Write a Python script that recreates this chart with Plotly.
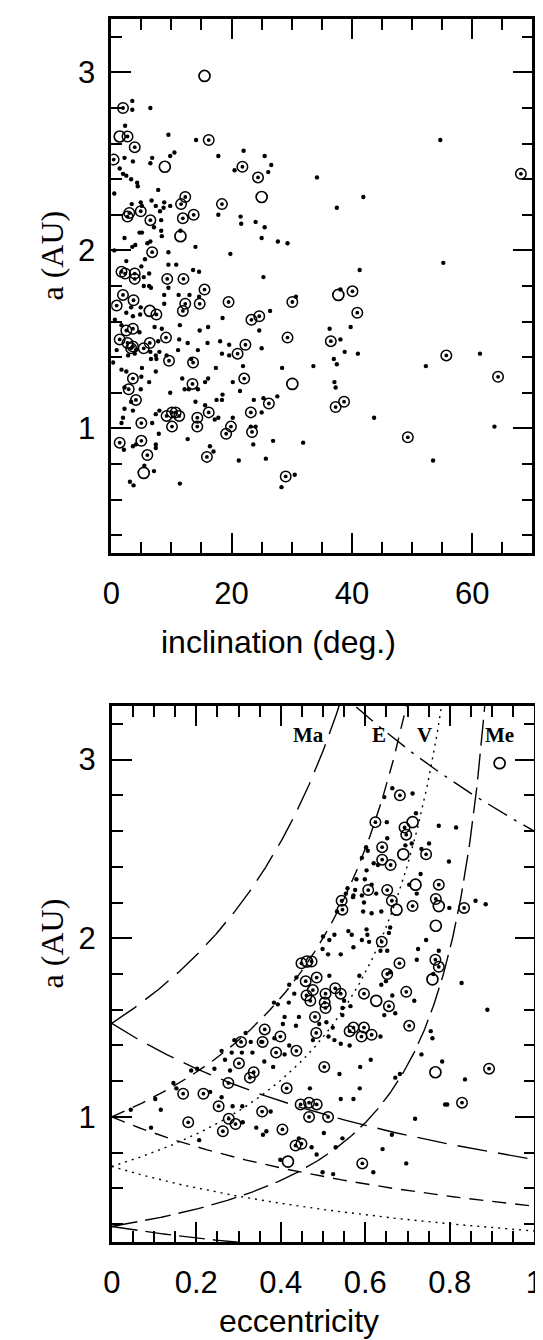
import numpy as np
import plotly.graph_objects as go

# ---------------- data: top panel (inclination [deg], a [AU]) ----------------
TOP_DOTS = [
    (3.5, 2.84), (3.5, 2.79), (6.5, 2.80), (2.3, 2.70), (9.5, 2.65), (14.1, 2.62), (22.0, 2.56), (25.5, 2.53),
    (2.2, 2.52), (3.6, 2.50), (6.8, 2.52), (6.5, 2.49), (9.8, 2.53), (10.5, 2.55), (17.8, 2.53), (20.5, 2.45),
    (1.4, 2.46), (1.95, 2.43), (2.5, 2.42), (3.3, 2.40), (4.3, 2.38), (4.4, 2.36), (0.5, 2.32), (7.8, 2.34),
    (6.7, 2.28), (8.8, 2.27), (9.8, 2.25), (7.4, 2.25), (8.7, 2.24), (4.9, 2.27), (5.1, 2.25), (3.4, 2.26),
    (8.1, 2.22), (8.3, 2.17), (7.1, 2.13), (8.3, 2.11), (8.4, 2.08), (11.5, 2.11), (17.8, 2.20), (21.5, 2.19),
    (21.6, 2.15), (24.0, 2.16), (25.0, 2.07), (25.5, 2.13), (2.2, 2.07), (4.7, 2.10), (5.1, 2.10), (4.0, 2.03),
    (3.5, 2.02), (6.0, 2.04), (6.5, 2.05), (9.5, 1.99), (14.0, 2.02), (19.8, 1.98), (0.5, 2.00), (5.6, 1.95),
    (9.5, 1.92), (10.8, 1.92), (2.5, 1.94),
    (5.0, 1.91), (6.3, 1.87), (5.4, 1.85), (13.6, 1.89), (14.6, 1.88), (25.3, 1.85), (5.4, 1.80), (6.3, 1.80),
    (6.6, 1.79), (9.5, 1.79), (8.8, 1.75), (11.2, 1.75), (13.0, 1.75), (14.6, 1.74), (3.3, 1.68), (4.9, 1.68),
    (2.5, 1.65), (3.6, 1.63), (4.8, 1.64), (8.8, 1.70), (18.5, 1.62), (24.6, 1.55), (1.7, 1.58), (0.6, 1.61),
    (4.7, 1.54), (7.2, 1.57), (8.4, 1.56), (11.4, 1.58), (14.7, 1.55), (16.1, 1.57), (11.3, 1.50), (12.7, 1.48),
    (7.8, 1.49), (16.0, 1.48), (18.1, 1.49), (19.6, 1.47), (0.9, 1.44), (4.1, 1.44), (3.9, 1.42), (2.8, 1.41),
    (6.5, 1.43), (7.4, 1.41), (8.0, 1.43), (9.2, 1.41), (11.1, 1.44), (6.6, 1.39), (7.5, 1.39), (14.4, 1.44),
    (18.4, 1.42), (19.6, 1.41), (13.3, 1.39), (17.4, 1.34), (21.9, 1.35), (1.7, 1.33), (2.5, 1.32), (5.1, 1.34),
    (5.0, 1.29), (6.3, 1.26), (7.4, 1.32), (11.8, 1.28), (16.1, 1.28), (15.6, 1.26), (14.4, 1.22), (12.2, 1.22),
    (12.9, 1.22), (20.2, 1.26), (21.4, 1.21), (2.2, 1.23), (4.9, 1.22), (9.8, 1.20), (3.3, 1.15), (2.2, 1.11),
    (3.6, 1.10), (1.95, 1.06), (18.5, 1.19), (18.4, 1.16), (17.5, 1.16), (23.7, 1.16), (14.0, 1.15), (15.6, 1.13),
    (7.4, 1.08), (8.0, 1.10), (17.2, 1.05), (17.8, 1.06), (20.2, 1.06), (6.8, 1.03), (23.2, 1.01), (24.0, 1.01),
    (1.7, 1.03), (0.3, 1.37),
    (2.1, 0.88), (3.6, 0.90), (4.1, 0.91), (7.4, 0.91), (7.4, 0.89), (7.9, 0.97), (5.5, 0.79), (3.1, 0.70),
    (3.7, 0.68), (7.1, 0.76), (11.4, 0.69), (12.7, 0.94), (16.4, 0.90), (17.0, 0.87), (21.2, 0.82), (23.6, 0.91),
    (26.9, 0.93), (25.7, 0.83), (31.9, 0.92), (30.5, 0.74), (28.3, 0.67), (27.6, 1.18), (25.3, 1.17), (25.0, 1.09),
    (33.6, 1.35), (28.4, 1.34), (25.0, 1.45),
    (26.6, 2.48), (26.1, 2.44), (27.7, 2.05), (29.3, 2.04), (30.7, 1.74), (26.4, 1.66),
    (54.7, 2.62), (34.2, 2.41), (41.9, 2.30), (37.5, 2.24), (55.2, 1.93), (41.3, 1.89), (38.1, 1.78), (36.3, 1.56),
    (39.8, 1.57), (38.1, 1.50), (38.8, 1.43), (41.0, 1.42), (37.0, 1.39), (37.5, 1.36), (61.3, 1.42), (52.3, 1.35),
    (37.1, 1.26), (37.3, 1.23), (43.7, 1.06), (63.7, 1.01), (53.5, 0.82),
]
TOP_RINGS = [
    (1.95, 2.80), (2.7, 2.64), (3.9, 2.58), (16.2, 2.62), (0.4, 2.51), (21.8, 2.47), (24.4, 2.41), (12.3, 2.30),
    (11.6, 2.26), (18.4, 2.26), (4.9, 2.22), (3.0, 2.21), (2.7, 2.19), (6.5, 2.17), (11.9, 2.18), (13.7, 2.20),
    (6.8, 1.99), (1.7, 1.88), (2.3, 1.87), (3.9, 1.87), (3.9, 1.84), (9.3, 1.84), (12.0, 1.84), (15.5, 1.78),
    (1.95, 1.75), (3.7, 1.72), (0.9, 1.69), (12.3, 1.70), (11.9, 1.66), (14.7, 1.70), (19.5, 1.71), (7.5, 1.64),
    (23.3, 1.61), (24.6, 1.63), (2.5, 1.55), (3.6, 1.56), (9.1, 1.51), (1.4, 1.50), (2.7, 1.48), (3.6, 1.46),
    (3.3, 1.45), (6.4, 1.48), (5.4, 1.45), (22.3, 1.47), (9.6, 1.38), (21.0, 1.42), (13.6, 1.37), (22.1, 1.28),
    (3.6, 1.28), (13.5, 1.25), (2.9, 1.22), (4.1, 1.16), (16.2, 1.09), (23.2, 1.09), (26.2, 1.14), (9.2, 1.07),
    (10.1, 1.09), (10.7, 1.09), (11.3, 1.07), (14.3, 1.06), (5.0, 1.03), (10.1, 1.01), (14.3, 1.01), (19.9, 1.01),
    (1.4, 0.92), (5.0, 0.93), (6.0, 0.85), (15.9, 0.84), (19.1, 0.97), (23.4, 0.98), (29.0, 0.73), (29.3, 1.51),
    (30.1, 1.71), (68.1, 2.43), (40.1, 1.77), (40.9, 1.65), (36.5, 1.49), (55.7, 1.41), (64.3, 1.29), (38.7, 1.15),
    (37.3, 1.12), (49.3, 0.95),
]
TOP_OPEN = [(1.4, 2.64), (8.9, 2.47), (25.0, 2.30), (11.5, 2.08), (6.4, 1.66), (15.5, 2.98), (5.4, 0.75),
            (30.1, 1.25), (37.75, 1.75)]

# ---------------- data: bottom panel (eccentricity, a [AU]) ----------------
BOT_DOTS = [
    (.664, 2.84), (.712, 2.81), (.645, 2.79), (.651, 2.65), (.720, 2.70), (.774, 2.63), (.815, 2.62), (.652, 2.56),
    (.602, 2.51), (.606, 2.49), (.695, 2.52), (.710, 2.53), (.733, 2.50), (.751, 2.53), (.592, 2.45), (.620, 2.42),
    (.630, 2.41), (.798, 2.43), (.603, 2.38), (.579, 2.33), (.599, 2.33), (.615, 2.30), (.731, 2.36), (.722, 2.25),
    (.704, 2.30), (.626, 2.25), (.592, 2.24), (.576, 2.27), (.572, 2.24), (.558, 2.28), (.554, 2.25), (.799, 2.17),
    (.861, 2.21), (.885, 2.19), (.533, 2.15), (.571, 2.23), (.597, 2.20), (.595, 2.15), (.615, 2.14), (.638, 2.15),
    (.560, 2.04), (.568, 2.02), (.603, 2.05), (.605, 2.02), (.609, 1.98), (.659, 2.06), (.656, 2.03), (.592, 1.99),
    (.572, 1.95), (.500, 2.01), (.515, 1.99), (.527, 2.02), (.744, 1.99), (.725, 1.94), (.774, 1.93), (.722, 1.88),
    (.499, 1.94), (.512, 1.91), (.542, 1.91), (.636, 1.93), (.652, 1.93), (.761, 1.80), (.659, 1.81), (.638, 1.74),
    (.649, 1.76), (.716, 1.65), (.664, 1.68), (.645, 1.57), (.671, 1.58), (.565, 1.62), (.550, 1.65), (.586, 1.79),
    (.515, 1.79), (.420, 1.74), (.437, 1.78), (.419, 1.64), (.393, 1.63), (.432, 1.69), (.443, 1.56), (.436, 1.51),
    (.384, 1.64), (.491, 1.52), (.508, 1.53), (.523, 1.50), (.527, 1.43), (.546, 1.57), (.546, 1.61), (.513, 1.45),
    (.542, 1.41), (.563, 1.40), (.636, 1.45), (.828, 1.75), (.889, 1.60), (.755, 1.48), (.759, 1.44), (.733, 1.35),
    (.782, 1.31), (.836, 1.21), (.794, 1.07), (.671, 1.22), (.682, 1.24), (.539, 1.24), (.588, 1.28), (.613, 1.32),
    (.587, 1.16), (.542, 1.10), (.572, 1.10), (.469, 1.16), (.476, 1.43), (.409, 1.56), (.405, 1.52), (.385, 1.44),
    (.420, 1.40), (.409, 1.35), (.354, 1.42), (.329, 1.42), (.333, 1.36), (.361, 1.31), (.382, 1.28), (.290, 1.43),
    (.317, 1.47), (.284, 1.36), (.308, 1.36), (.260, 1.37), (.268, 1.32), (.280, 1.26), (.243, 1.27), (.188, 1.26),
    (.202, 1.27), (.233, 1.14), (.260, 1.11), (.286, 1.06), (.309, 1.06), (.146, 1.19), (.153, 1.16), (.103, 1.10),
    (.045, 1.04), (.116, 1.04), (.093, 0.94), (.207, 0.87), (.310, 0.97), (.342, 0.94), (.358, 0.90), (.366, 0.92),
    (.376, 1.03), (.399, 0.76), (.443, 0.88), (.473, 0.83), (.485, 0.79), (.502, 0.91), (.499, 0.69), (.524, 0.68),
    (.530, 0.83), (.546, 0.88), (.619, 0.69), (.641, 0.82), (.663, 0.90), (.697, 0.74), (.718, 0.99), (.789, 1.07),
]
BOT_RINGS = [
    (.682, 2.80), (.624, 2.65), (.693, 2.62), (.697, 2.58), (.640, 2.51), (.744, 2.47), (.640, 2.44), (.660, 2.41),
    (.774, 2.30), (.607, 2.27), (.652, 2.27), (.767, 2.22), (.663, 2.21), (.712, 2.18), (.834, 2.17), (.544, 2.21),
    (.546, 2.16), (.639, 1.98), (.766, 1.88), (.774, 1.84), (.681, 1.86), (.652, 1.80), (.697, 1.70), (.656, 1.62),
    (.597, 1.69), (.449, 1.86), (.473, 1.87), (.485, 1.78), (.459, 1.76), (.461, 1.68), (.470, 1.65), (.476, 1.71),
    (.506, 1.69), (.504, 1.64), (.506, 1.61), (.529, 1.72), (.542, 1.69), (.481, 1.56), (.484, 1.47), (.563, 1.48),
    (.572, 1.50), (.597, 1.50), (.591, 1.45), (.615, 1.46), (.704, 1.51), (.893, 1.27), (.829, 1.08), (.503, 1.28),
    (.467, 1.08), (.485, 1.07), (.447, 1.07), (.414, 1.16), (.437, 1.37), (.389, 1.36), (.399, 1.45), (.357, 1.42),
    (.362, 1.49), (.301, 1.30), (.336, 1.25), (.327, 1.22), (.276, 1.19), (.306, 1.42), (.217, 1.13), (.169, 1.13),
    (.253, 1.06), (.181, 0.97), (.263, 0.92), (.277, 0.99), (.293, 0.96), (.356, 1.03), (.404, 0.93), (.435, 0.84),
    (.449, 0.85), (.467, 1.00), (.512, 1.00), (.593, 0.74),
]
BOT_OPEN = [(.918, 2.98), (.712, 2.65), (.690, 2.47), (.719, 2.30), (.774, 2.18), (.674, 2.16), (.767, 2.07),
            (.759, 1.77), (.626, 1.65), (.462, 1.87), (.766, 1.25), (.417, 0.75)]

# planet-crossing curves: q = a(1-e) = r  and  Q = a(1+e) = r
PLANET_NAMES = ["Me", "V", "E", "Ma"]
PLANET_A = [0.387, 0.723, 1.0, 1.524]
PLANET_DASH = ["26px,8px", "2px,5px", "14px,9px", "30px,11px"]
JUPITER_Q = 5.2
LABEL_E = [0.918, 0.741, 0.632, 0.466]
LABEL_A = 3.14

TICKFONT = dict(family="Liberation Sans, Arial, sans-serif", size=31, color="black")
TITLEFONT = dict(family="Liberation Sans, Arial, sans-serif", size=32, color="black")

fig = go.Figure()


def add_points(dots, rings, opens, xa, ya):
    fig.add_trace(go.Scatter(x=[p[0] for p in dots], y=[p[1] for p in dots], mode="markers",
                             marker=dict(symbol="circle", size=4.4, color="black", line=dict(width=0)),
                             xaxis=xa, yaxis=ya, showlegend=False, hoverinfo="skip"))
    fig.add_trace(go.Scatter(x=[p[0] for p in rings], y=[p[1] for p in rings], mode="markers",
                             marker=dict(symbol="circle-open", size=10.5, color="black", line=dict(width=1.5)),
                             xaxis=xa, yaxis=ya, showlegend=False, hoverinfo="skip"))
    fig.add_trace(go.Scatter(x=[p[0] for p in rings], y=[p[1] for p in rings], mode="markers",
                             marker=dict(symbol="circle", size=3.8, color="black", line=dict(width=0)),
                             xaxis=xa, yaxis=ya, showlegend=False, hoverinfo="skip"))
    fig.add_trace(go.Scatter(x=[p[0] for p in opens], y=[p[1] for p in opens], mode="markers",
                             marker=dict(symbol="circle-open", size=11, color="black", line=dict(width=1.7)),
                             xaxis=xa, yaxis=ya, showlegend=False, hoverinfo="skip"))


# curves (bottom panel)
for r, dash in zip(PLANET_A, PLANET_DASH):
    e_up = np.linspace(0, 1 - r / 3.45, 400)
    fig.add_trace(go.Scatter(x=e_up, y=r / (1 - e_up), mode="lines",
                             line=dict(color="black", width=1.4, dash=dash),
                             xaxis="x2", yaxis="y2", showlegend=False, hoverinfo="skip"))
    e_dn = np.linspace(0, 1, 400)
    fig.add_trace(go.Scatter(x=e_dn, y=r / (1 + e_dn), mode="lines",
                             line=dict(color="black", width=1.4, dash=dash),
                             xaxis="x2", yaxis="y2", showlegend=False, hoverinfo="skip"))
e_j = np.linspace(JUPITER_Q / 3.45 - 1, 1, 300)
fig.add_trace(go.Scatter(x=e_j, y=JUPITER_Q / (1 + e_j), mode="lines",
                         line=dict(color="black", width=1.4, dash="22px,8px,3px,8px"),
                         xaxis="x2", yaxis="y2", showlegend=False, hoverinfo="skip"))

add_points(TOP_DOTS, TOP_RINGS, TOP_OPEN, "x", "y")
add_points(BOT_DOTS, BOT_RINGS, BOT_OPEN, "x2", "y2")

W, H = 543, 1340


def axis(domain, rng, dtick, mdtick, anchor, standoff):
    return dict(domain=domain, range=rng, anchor=anchor, showgrid=False, zeroline=False,
                showline=True, linecolor="black", linewidth=2.5, mirror="allticks",
                ticks="inside", ticklen=20, tickwidth=1.6, tickcolor="black",
                tick0=0, dtick=dtick, tickfont=TICKFONT, ticklabelstandoff=standoff,
                ticklabeloverflow="allow",
                minor=dict(ticks="inside", ticklen=11, tickwidth=1.6, tickcolor="black",
                           tick0=0, dtick=mdtick, showgrid=False))


fig.update_layout(
    width=W, height=H, margin=dict(l=0, r=0, t=0, b=0),
    paper_bgcolor="white", plot_bgcolor="white", showlegend=False,
    xaxis=axis([97.5 / W, 533 / W], [0, 70], 20, 5, "y", 11),
    yaxis=axis([(H - 545) / H, (H - 11) / H], [0.3, 3.3], 1, 0.2, "x", 7),
    xaxis2=axis([98 / W, 535 / W], [0, 1], 0.2, 0.05, "y2", 11),
    yaxis2=axis([(H - 1234) / H, (H - 698) / H], [0.3, 3.3], 1, 0.2, "x2", 7),
)

ann = []
ann.append(dict(text="inclination (deg.)", x=270 / W, y=(H - 634) / H, xref="paper", yref="paper",
                showarrow=False, font=TITLEFONT, xanchor="center", yanchor="middle"))
ann.append(dict(text="eccentricity", x=292 / W, y=(H - 1313) / H, xref="paper", yref="paper",
                showarrow=False, font=TITLEFONT, xanchor="center", yanchor="middle"))
for yr in ["y", "y2"]:
    ann.append(dict(text="a (AU)", x=36 / W, y=1.97, xref="paper", yref=yr, textangle=-90,
                    showarrow=False, font=dict(family="Liberation Serif, Times New Roman, serif", size=32,
                                               color="black"),
                    xanchor="center", yanchor="middle"))
for name, ex in zip(PLANET_NAMES, LABEL_E):
    ann.append(dict(text="<b>%s</b>" % name, x=ex, y=LABEL_A, xref="x2", yref="y2", showarrow=False,
                    font=dict(family="Liberation Serif, Times New Roman, serif", size=21, color="black"),
                    xanchor="center", yanchor="middle"))
fig.update_layout(annotations=ann)

fig.write_html("out.html")
